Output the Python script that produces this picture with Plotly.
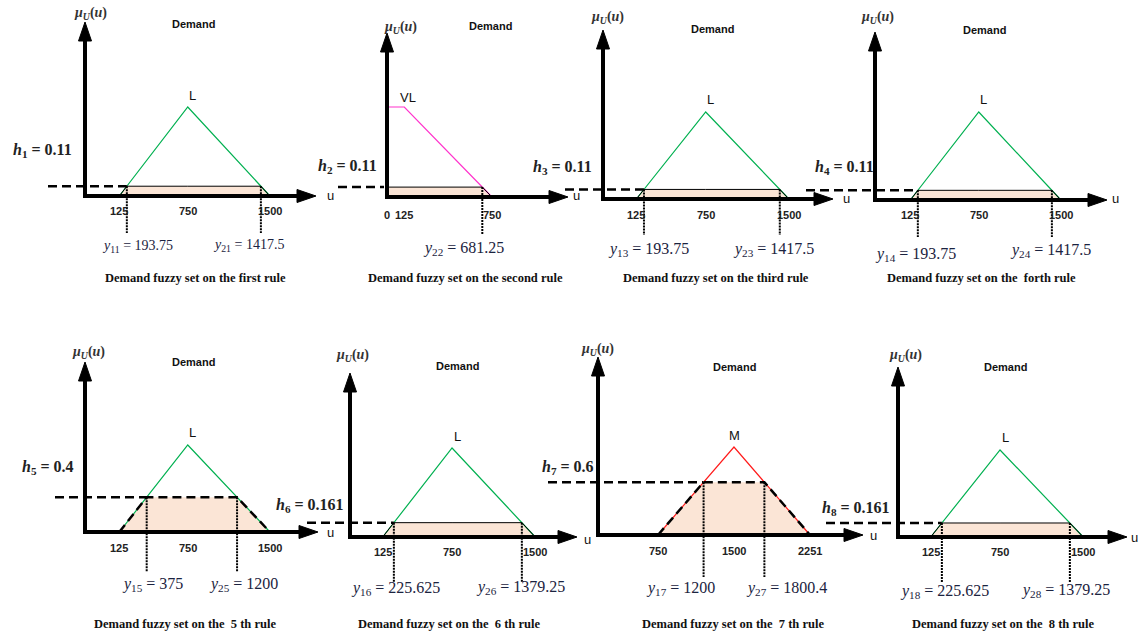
import numpy as np
import plotly.graph_objects as go

W, H = 1138, 636

# Membership functions of the output variable "Demand" (breakpoints u, degree mu)
L_u = [125, 750, 1500]
L_mu = [0, 1, 0]
VL_u = [0, 125, 750]
VL_mu = [1, 1, 0]
M_u = [750, 1500, 2251]
M_mu = [0, 1, 0]

# one entry per rule
rule_names = ["first", "second", "third", " forth", " 5 th", " 6 th", " 7 th", " 8 th"]
rule_sets = ["L", "VL", "L", "L", "L", "L", "M", "L"]
firing_h = [0.11, 0.11, 0.11, 0.11, 0.4, 0.161, 0.6, 0.161]
cut_low = [193.75, None, 193.75, 193.75, 375, 225.625, 1200, 225.625]
cut_high = [1417.5, 681.25, 1417.5, 1417.5, 1200, 1379.25, 1800.4, 1379.25]

SETS = {"L": (L_u, L_mu), "VL": (VL_u, VL_mu), "M": (M_u, M_mu)}
SET_COLORS = {"L": "#00B050", "VL": "#FF33CC", "M": "#FF1A1A"}
FILL = "#FBE5D6"
SANS = "Liberation Sans, Arial, sans-serif"
SERIF = "Liberation Serif, Times New Roman, serif"

# where each small diagram sits on the page (pixels)
PANELS = [
    dict(bp_px=(117, 192, 268), oy=196, peak_py=107, ox=85, ytip=22, xtip=316, u_lbl=(330, 196),
         dash_x=48, drop_y=233, mu_lbl=(90, 14), demand=(193, 24), set_lbl=(192, 96), h_lbl=(42, 150),
         tick_y=211, cut_lbl=((137, 246), (248, 245)), caption=(195, 278), ysize=13, dashed=False),
    dict(bp_px=(387, 404, 492), oy=197, peak_py=107, ox=387, ytip=33, xtip=568, u_lbl=(577, 196),
         dash_x=338, drop_y=235, mu_lbl=(400, 27), demand=(490, 26), set_lbl=(408, 97), h_lbl=(347, 166),
         tick_y=215, cut_lbl=(None, (463, 248)), caption=(465, 278), ysize=15, dashed=False),
    dict(bp_px=(634, 710, 787), oy=199, peak_py=112, ox=603, ytip=30, xtip=833, u_lbl=(846, 198),
         dash_x=565, drop_y=235, mu_lbl=(607, 17), demand=(712, 29), set_lbl=(710, 99), h_lbl=(562, 167),
         tick_y=215, cut_lbl=((648, 249), (773, 249)), caption=(716, 278), ysize=15, dashed=False),
    dict(bp_px=(908, 983, 1059), oy=200, peak_py=112, ox=875, ytip=32, xtip=1107, u_lbl=(1115, 198),
         dash_x=806, drop_y=237, mu_lbl=(877, 18), demand=(984, 30), set_lbl=(983, 100), h_lbl=(844, 168),
         tick_y=215, cut_lbl=((915, 254), (1050, 251)), caption=(981, 278), ysize=15, dashed=False),
    dict(bp_px=(117, 192, 268), oy=532, peak_py=445, ox=85, ytip=362, xtip=318, u_lbl=(330, 532),
         dash_x=55, drop_y=572, mu_lbl=(88, 352), demand=(193, 362), set_lbl=(192, 432), h_lbl=(48, 468),
         tick_y=548, cut_lbl=((152, 584), (243, 584)), caption=(185, 624), ysize=15, dashed=True),
    dict(bp_px=(380, 457, 533), oy=537, peak_py=448, ox=350, ytip=373, xtip=577, u_lbl=(587, 539),
         dash_x=307, drop_y=582, mu_lbl=(352, 355), demand=(457, 366), set_lbl=(457, 436), h_lbl=(310, 505),
         tick_y=552, cut_lbl=((395, 588), (520, 587)), caption=(449, 624), ysize=15, dashed=False),
    dict(bp_px=(658, 734, 810), oy=535, peak_py=447, ox=598, ytip=357, xtip=863, u_lbl=(873, 535),
         dash_x=548, drop_y=577, mu_lbl=(597, 349), demand=(734, 367), set_lbl=(734, 435), h_lbl=(568, 468),
         tick_y=551, cut_lbl=((680, 588), (787, 588)), caption=(733, 624), ysize=15, dashed=True),
    dict(bp_px=(928, 1005, 1081), oy=537, peak_py=450, ox=898, ytip=367, xtip=1127, u_lbl=(1134, 537),
         dash_x=826, drop_y=583, mu_lbl=(905, 355), demand=(1006, 367), set_lbl=(1005, 437), h_lbl=(856, 508),
         tick_y=552, cut_lbl=((945, 591), (1065, 590)), caption=(1003, 624), ysize=15, dashed=False),
]


def paper(px, py):
    return px / W, 1 - py / H


def text_at(px, py, text, size, family=SANS, color="#111111"):
    x, y = paper(px, py)
    return dict(x=x, y=y, xref="paper", yref="paper", text=text, showarrow=False,
                xanchor="center", yanchor="middle", font=dict(size=size, family=family, color=color))


def axis_arrows(g):
    shapes = []
    ox, oy = g["ox"], g["oy"]
    x0, y0 = paper(ox, oy + 2)
    x1, y1 = paper(ox, g["ytip"] + 16)
    shapes.append(dict(type="line", xref="paper", yref="paper", x0=x0, y0=y0, x1=x1, y1=y1,
                       line=dict(color="black", width=4)))
    x0, y0 = paper(ox - 2, oy)
    x1, y1 = paper(g["xtip"] - 16, oy)
    shapes.append(dict(type="line", xref="paper", yref="paper", x0=x0, y0=y0, x1=x1, y1=y1,
                       line=dict(color="black", width=4)))
    heads = [
        [(ox, g["ytip"]), (ox - 6.5, g["ytip"] + 19), (ox + 6.5, g["ytip"] + 19)],
        [(g["xtip"], oy), (g["xtip"] - 19, oy - 6.5), (g["xtip"] - 19, oy + 6.5)],
    ]
    for pts in heads:
        p = [paper(*pt) for pt in pts]
        path = "M{},{} L{},{} L{},{} Z".format(p[0][0], p[0][1], p[1][0], p[1][1], p[2][0], p[2][1])
        shapes.append(dict(type="path", xref="paper", yref="paper", path=path,
                           fillcolor="black", line=dict(color="black", width=1)))
    return shapes


fig = go.Figure()
layout_axes = {}
annotations = []
shapes = []

for i, (rule, set_name, h, lo, hi, g) in enumerate(
        zip(rule_names, rule_sets, firing_h, cut_low, cut_high, PANELS)):
    n = i + 1
    suffix = "" if n == 1 else str(n)
    xa, ya = "x" + suffix, "y" + suffix
    su, smu = SETS[set_name]

    # linear scale u -> pixel fitted to where the breakpoints sit in the drawing
    k, a = np.polyfit(su, g["bp_px"], 1)
    ky = g["oy"] - g["peak_py"]

    def to_u(px):
        return (px - a) / k

    def to_mu(py):
        return (g["oy"] - py) / ky

    layout_axes["xaxis" + suffix] = dict(domain=[0, 1], range=[to_u(0), to_u(W)], visible=False,
                                         anchor=ya, fixedrange=True)
    layout_axes["yaxis" + suffix] = dict(domain=[0, 1], range=[to_mu(H), to_mu(0)], visible=False,
                                         anchor=xa, fixedrange=True)

    cuts = [c for c in (lo, hi) if c is not None]
    us = sorted(set(su) | set(cuts))
    clipped = [min(float(np.interp(u, su, smu)), h) for u in us]

    # clipped (implied) fuzzy set
    fig.add_trace(go.Scatter(x=[su[0]] + us + [su[-1]], y=[0] + clipped + [0], xaxis=xa, yaxis=ya,
                             mode="lines", fill="toself", fillcolor=FILL, line=dict(width=0),
                             hoverinfo="skip", showlegend=False))
    # membership function
    fig.add_trace(go.Scatter(x=su, y=smu, xaxis=xa, yaxis=ya, mode="lines",
                             line=dict(color=SET_COLORS[set_name], width=1.2),
                             hoverinfo="skip", showlegend=False))
    # outline of the clipped set
    if g["dashed"]:
        outline = dict(color="black", width=2.5, dash="9px,5px")
    else:
        outline = dict(color="black", width=1)
    fig.add_trace(go.Scatter(x=us, y=clipped, xaxis=xa, yaxis=ya, mode="lines", line=outline,
                             hoverinfo="skip", showlegend=False))
    # firing level
    h_end = lo if lo is not None else to_u(g["ox"] - 3)
    fig.add_trace(go.Scatter(x=[to_u(g["dash_x"]), h_end], y=[h, h], xaxis=xa, yaxis=ya, mode="lines",
                             line=dict(color="black", width=2.5, dash="9px,5px"),
                             hoverinfo="skip", showlegend=False))
    # drop lines from the cut points
    for c in cuts:
        fig.add_trace(go.Scatter(x=[c, c], y=[h, to_mu(g["drop_y"])], xaxis=xa, yaxis=ya, mode="lines",
                                 line=dict(color="black", width=2, dash="2px,1px"),
                                 hoverinfo="skip", showlegend=False))

    shapes += axis_arrows(g)

    # texts
    annotations.append(text_at(*g["mu_lbl"], "<b><i>μ</i><sub><i>U</i></sub>(<i>u</i>)</b>", 14,
                               SERIF, "#333333"))
    annotations.append(text_at(*g["demand"], "<b>Demand</b>", 11))
    annotations.append(text_at(*g["set_lbl"], set_name, 13))
    annotations.append(text_at(*g["u_lbl"], "u", 13))
    annotations.append(text_at(*g["h_lbl"], f"<b><i>h</i><sub>{n}</sub> = {h:g}</b>", 16, SERIF, "#222222"))
    annotations.append(text_at(*g["caption"], f"<b>Demand fuzzy set on the {rule} rule</b>", 12.5, SERIF))
    for u in su:
        annotations.append(dict(x=u, y=1 - g["tick_y"] / H, xref=xa, yref="paper", text=f"<b>{u}</b>",
                                showarrow=False, xanchor="center", yanchor="middle",
                                font=dict(size=11, family=SANS, color="#222222")))
    for j, (c, pos) in enumerate(zip((lo, hi), g["cut_lbl"])):
        if c is None:
            continue
        annotations.append(text_at(*pos, f"<i>y</i><sub>{j + 1}{n}</sub> = {c:g}", g["ysize"] + 1,
                                   SERIF, "#1b2340"))

fig.update_layout(
    width=W,
    height=H,
    margin=dict(l=0, r=0, t=0, b=0),
    paper_bgcolor="white",
    plot_bgcolor="rgba(0,0,0,0)",
    showlegend=False,
    annotations=annotations,
    shapes=shapes,
    **layout_axes,
)

fig.write_html("out.html", config={"displayModeBar": False},
               post_script="document.body.style.margin = '0px';")
